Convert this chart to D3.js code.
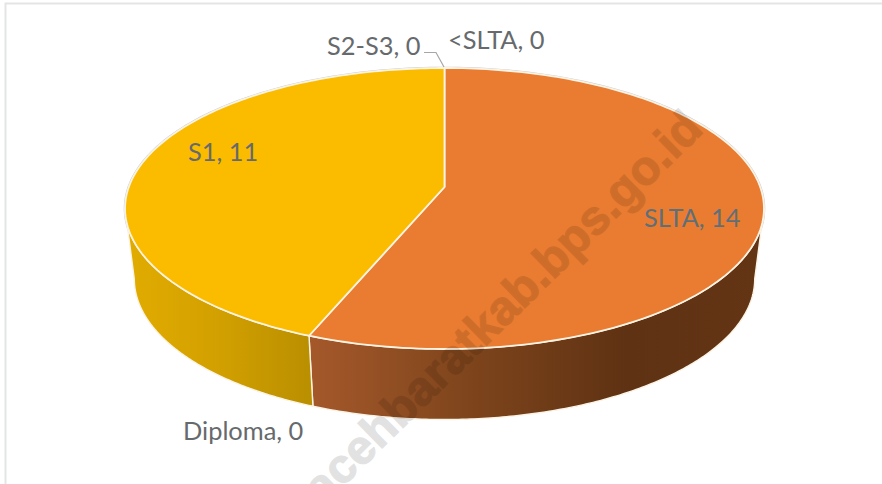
<!DOCTYPE html>
<html><head><meta charset="utf-8">
<script src="https://cdn.jsdelivr.net/npm/d3@7"></script>
<style>html,body{margin:0;background:#fff}svg{display:block}</style></head>
<body><svg id="c" width="882" height="484"></svg>
<script>
const categories = ["SLTA", "<SLTA", "S2-S3", "S1", "Diploma"];
const values = [14, 0, 0, 11, 0];
const topColors = {"SLTA":"#E97C30","S1":"#FBBC00"};
const watermark = "acehbaratkab.bps.go.id";

const svg = d3.select("#c"), defs = svg.append("defs");
svg.append("rect").attr("x",5.5).attr("y",3.5).attr("width",900).attr("height",500)
  .attr("fill","#fff").attr("stroke","#E3E5E4").attr("stroke-width",2);

// perspective projection of a disc onto the page
const cx=444.5, c=-0.153, a=108.6, b=187, k=315.7;
const project = (t,r=1)=>{ const u=r*Math.sin(t), v=-r*Math.cos(t), d=1+c*v;
  return [k*u/d, (a*v+b)/d]; };
const topPt = (t,r=1)=>{const p=project(t,r);return [cx+p[0],p[1]];};
const botPt = (t)=>{const p=project(t);return [cx+p[0]*0.971,p[1]+70.5];};
const tRight = Math.acos(c), tLeft = 2*Math.PI-Math.acos(c);

const pie = d3.pie().sort(null).value(d=>d.v);
const arcs = pie(categories.map((n,i)=>({n,v:values[i]})));
const line = d3.line();
const samples=(s,e,n=160)=>d3.range(n+1).map(i=>s+(e-s)*i/n);
const rim = "#FBF3E4";

// soft grey silhouette behind the disc
svg.append("path").attr("d",line(samples(0,2*Math.PI,240).map(t=>topPt(t)))+"Z")
  .attr("fill","none").attr("stroke","#C9CBCB").attr("stroke-width",2.6);

// walls
const frontWalls=[
 {n:"SLTA",id:"wo",stops:[[0,"#A6592B"],[0.35,"#7F451C"],[0.7,"#5F3213"],[1,"#633515"]],x0:305,x1:764},
 {n:"S1",id:"wy",stops:[[0,"#E2AC00"],[0.5,"#D2A000"],[1,"#BA8F00"]],x0:125,x1:309}];
frontWalls.forEach(w=>{
  const g=defs.append("linearGradient").attr("id",w.id).attr("gradientUnits","userSpaceOnUse")
   .attr("x1",w.x0).attr("x2",w.x1).attr("y1",0).attr("y2",0);
  w.stops.forEach(s=>g.append("stop").attr("offset",s[0]).attr("stop-color",s[1]));
  const ar=arcs.find(d=>d.data.n===w.n);
  const ts=samples(Math.max(ar.startAngle,tRight),Math.min(ar.endAngle,tLeft));
  const pts=ts.map(t=>topPt(t)).concat(ts.slice().reverse().map(botPt));
  svg.append("path").attr("d",line(pts)+"Z").attr("fill",`url(#${w.id})`)
   .attr("stroke","#FBF3E4").attr("stroke-width",1.4).attr("stroke-linejoin","round");
});

// top faces
arcs.filter(d=>d.value>0).forEach(ar=>{
  const ts=samples(ar.startAngle,ar.endAngle);
  const pts=[topPt(0,0)].concat(ts.map(t=>topPt(t)));
  svg.append("path").attr("d",line(pts)+"Z").attr("fill",topColors[ar.data.n])
   .attr("stroke",rim).attr("stroke-width",1.8).attr("stroke-linejoin","round");
});

// leader line
svg.append("path").attr("d",line([[424,52.5],[436,52.5],[444,67]])).attr("fill","none")
  .attr("stroke","#A6A6A6").attr("stroke-width",1.2);

// watermark
svg.append("text").attr("transform","translate(322.6,506.7) rotate(-44.5)")
  .attr("font-family","'Liberation Sans',Arial,sans-serif").attr("font-weight",700).attr("font-size",48)
  .attr("fill","#000").attr("stroke","#000").attr("stroke-width",1.2).attr("opacity",0.11)
  .text(watermark);

// labels
const labelAt={"SLTA":[644,227],"<SLTA":[448,49],"S2-S3":[327,55],"S1":[188,161],"Diploma":[183,440]};
categories.forEach((n,i)=>{
  svg.append("text").attr("x",labelAt[n][0]).attr("y",labelAt[n][1])
   .attr("font-family","Lato,'Open Sans',sans-serif").attr("font-size",25.4)
   .attr("fill",n==="SLTA"?"#5F6F78":"#666A6C").text(`${n}, ${values[i]}`);
});
</script></body></html>
